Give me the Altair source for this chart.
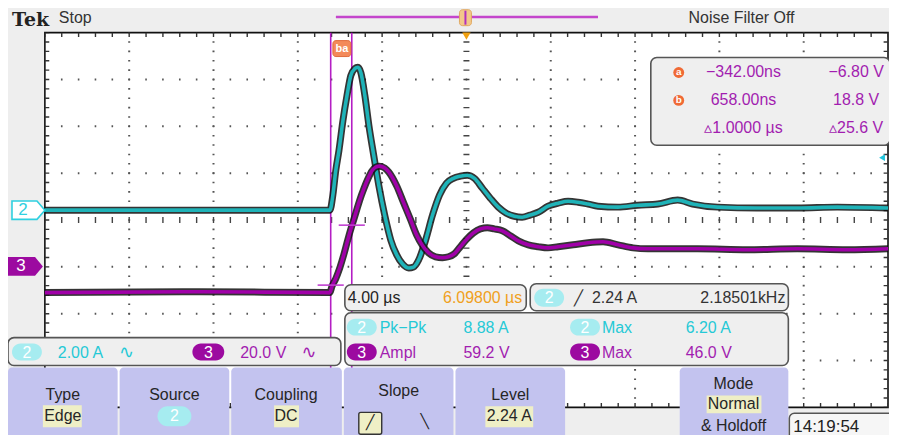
import altair as alt
import pandas as pd

# ---------------- scope settings ----------------
TIME_PER_DIV = 4.0      # us / div
H_DELAY = 6.098         # us, time at screen centre
CH2_A_PER_DIV = 2.0     # A / div
CH3_V_PER_DIV = 20.0    # V / div
CH2_POS = 0.21          # div
CH3_POS = -1.05         # div
TRIG_LEVEL = 2.24       # A

# ---------------- waveform samples ----------------
ch2_t = [-13.90, -10.0, -6.0, -2.0, -0.38, -0.24, -0.10, 0.05, 0.24, 0.43, 0.61, 0.80, 0.95, 1.09,
         1.28, 1.47, 1.70, 1.94, 2.22, 2.51, 2.79, 3.07, 3.36, 3.59, 3.83, 4.16, 4.49, 4.82, 5.15,
         5.48, 5.81, 6.14, 6.48, 6.85, 7.23, 7.61, 7.99, 8.37, 8.74, 9.12, 9.50, 9.97, 10.45, 10.92,
         11.39, 11.87, 12.34, 13.29, 14.23, 15.18, 16.12, 16.83, 18.01, 19.90, 21.80, 23.69, 26.10]
ch2_a = [0, 0, 0, 0, 0, 0.64, 1.70, 2.55, 3.83, 4.89, 5.74, 6.04, 6.10, 5.87,
         4.89, 3.62, 2.34, 1.06, -0.21, -1.28, -1.91, -2.30, -2.47, -2.43, -2.13, -1.28, -0.21, 0.64, 1.15,
         1.36, 1.45, 1.49, 1.36, 0.94, 0.51, 0.13, -0.13, -0.26, -0.30, -0.21, -0.09, 0.17, 0.30, 0.38,
         0.34, 0.26, 0.17, 0.13, 0.21, 0.26, 0.43, 0.26, 0.13, 0.09, 0.09, 0.13, 0.09]

ch3_t = [-13.90, -6.57, -0.38, -0.285, -0.10, 0.09, 0.28, 0.47, 0.66, 0.85, 1.04, 1.23, 1.42, 1.61,
         1.79, 1.98, 2.22, 2.41, 2.79, 3.12, 3.45, 3.73, 4.02, 4.30, 4.63, 4.96, 5.25, 5.53, 5.81,
         6.09, 6.43, 6.76, 7.09, 7.42, 7.80, 8.18, 8.56, 9.03, 9.50, 9.97, 10.45, 11.16, 11.87, 12.58,
         13.29, 14.00, 14.70, 17.07, 19.43, 21.80, 24.16, 26.10]
ch3_v = [-10.0, -9.6, -10.0, -7.4, -4.0, 0.6, 6.2, 12.6, 18.5, 24.0, 29.6, 34.3, 38.5, 41.9,
         43.6, 44.0, 43.2, 41.5, 35.5, 28.3, 21.1, 14.7, 10.0, 7.0, 5.3, 4.9, 5.3, 6.6, 9.6,
         12.6, 15.5, 17.2, 17.7, 17.2, 16.4, 14.3, 12.1, 10.4, 9.6, 9.1, 9.6, 10.4, 11.3, 11.7,
         10.4, 9.1, 8.7, 8.7, 8.3, 8.7, 8.3, 8.7]

cursor_t = [-0.342, 0.658]
cursor_v = [-6.80, 18.8]

# ---------------- readout texts ----------------
cursor_time_labels = ["\u2212342.00ns", "658.00ns", "\u25b51.0000 \u00b5s"]
cursor_value_labels = ["\u22126.80 V", "18.8 V", "\u25b525.6 V"]
timebase_labels = ["4.00 \u00b5s", "6.09800 \u00b5s"]
trigger_labels = ["2.24 A", "2.18501kHz"]
meas_names = ["Pk\u2212Pk", "Ampl", "Max", "Max"]
meas_values = ["8.88 A", "59.2 V", "6.20 A", "46.0 V"]
channel_labels = ["2.00 A", "20.0 V"]
button_titles = ["Type", "Source", "Coupling", "Slope", "Level", "Mode"]
button_values = ["Edge", "DC", "2.24 A", "Normal"]
clock_label = "14:19:54"

# ---------------- geometry ----------------
W, H = 884, 427
M = 8
PX_PER_US = 846 / (10 * TIME_PER_DIV)
PX_PER_DIV_Y = 47.0
T_LEFT = H_DELAY - 5 * TIME_PER_DIV
T_RIGHT = H_DELAY + 5 * TIME_PER_DIV
T0 = T_LEFT - (45 - M) / PX_PER_US
T1 = T0 + W / PX_PER_US
D_TOP = 4 + (32 - M) / PX_PER_DIV_Y
D_BOT = D_TOP - H / PX_PER_DIV_Y

xs = alt.Scale(domain=[T0, T1], nice=False, zero=False)
ys = alt.Scale(domain=[D_BOT, D_TOP], nice=False, zero=False)

CYAN_TR = "#1fb3b8"
PURP_TR = "#a000a8"
CYAN_TX = "#25c9d6"
PURP_TX = "#a21db0"
CYAN_PILL = "#a6ecf0"
PURP_PILL = "#9c0aa0"
BOX = "#efefef"
EDGE = "#555555"
FONT = "Liberation Sans"

layers = []


def X(f):
    return alt.X(f, scale=xs, axis=None)


def Y(f):
    return alt.Y(f, scale=ys, axis=None)


def rects(rows, radius=0, sw=1.3):
    df = pd.DataFrame(rows, columns=["x1", "y1", "x2", "y2", "fill", "stroke"])
    for c in ["x1", "x2", "y1", "y2"]:
        df[c] = df[c] - M
    return alt.Chart(df).mark_rect(cornerRadius=radius, strokeWidth=sw).encode(
        x=alt.X("x1:Q", scale=None, axis=None), x2="x2:Q",
        y=alt.Y("y1:Q", scale=None, axis=None), y2="y2:Q",
        fill=alt.Fill("fill:N", scale=None), stroke=alt.Stroke("stroke:N", scale=None))


def texts(rows, size=16, align="left", font=FONT, weight="normal", baseline="middle"):
    df = pd.DataFrame(rows, columns=["x", "y", "text", "color"])
    df["x"] = df["x"] - M
    df["y"] = df["y"] - M
    return alt.Chart(df).mark_text(align=align, baseline=baseline, fontSize=size,
                                   font=font, fontWeight=weight).encode(
        x=alt.X("x:Q", scale=None, axis=None), y=alt.Y("y:Q", scale=None, axis=None),
        text="text:N", color=alt.Color("color:N", scale=None))


# ---------------- graticule ----------------
grat = pd.DataFrame({"t1": [T_LEFT], "t2": [T_RIGHT], "d1": [4.0], "d2": [-4.0]})
layers.append(alt.Chart(grat).mark_rect(fill="white", stroke="#111", strokeWidth=1.6).encode(
    x=X("t1:Q"), x2="t2:Q", y=Y("d1:Q"), y2="d2:Q"))

vdf = pd.DataFrame({"t": [T_LEFT + k * TIME_PER_DIV for k in range(1, 10) if k != 5],
                    "d1": 4.0, "d2": -4.0})
layers.append(alt.Chart(vdf).mark_rule(color="#555", strokeWidth=2, strokeDash=[1.6, 7.8],
                                       strokeDashOffset=0.8).encode(
    x=X("t:Q"), y=Y("d1:Q"), y2="d2:Q"))
hdf = pd.DataFrame({"d": [-3, -2, -1, 1, 2, 3], "t1": T_LEFT, "t2": T_RIGHT})
layers.append(alt.Chart(hdf).mark_rule(color="#555", strokeWidth=2, strokeDash=[1.6, 15.32],
                                       strokeDashOffset=0.8).encode(
    y=Y("d:Q"), x=X("t1:Q"), x2="t2:Q"))

# centre cross with minor ticks
cv = pd.DataFrame({"t": [H_DELAY], "d1": 4.0, "d2": -4.0})
layers.append(alt.Chart(cv).mark_rule(color="#444", strokeWidth=6, strokeDash=[1.4, 8.0],
                                      strokeDashOffset=0.7).encode(
    x=X("t:Q"), y=Y("d1:Q"), y2="d2:Q"))
ch = pd.DataFrame({"d": [0.0], "t1": T_LEFT, "t2": T_RIGHT})
layers.append(alt.Chart(ch).mark_rule(color="#444", strokeWidth=6, strokeDash=[1.4, 15.52],
                                      strokeDashOffset=0.7).encode(
    y=Y("d:Q"), x=X("t1:Q"), x2="t2:Q"))

# border ticks
bt = pd.DataFrame({"d": [4 - 2.2 / PX_PER_DIV_Y, -4 + 2.2 / PX_PER_DIV_Y], "t1": T_LEFT, "t2": T_RIGHT})
layers.append(alt.Chart(bt).mark_rule(color="#333", strokeWidth=4.4, strokeDash=[1.4, 15.52],
                                      strokeDashOffset=0.7).encode(
    y=Y("d:Q"), x=X("t1:Q"), x2="t2:Q"))
bl = pd.DataFrame({"t": [T_LEFT + 2.2 / PX_PER_US, T_RIGHT - 2.2 / PX_PER_US], "d1": 4.0, "d2": -4.0})
layers.append(alt.Chart(bl).mark_rule(color="#333", strokeWidth=4.4, strokeDash=[1.4, 8.0],
                                      strokeDashOffset=0.7).encode(
    x=X("t:Q"), y=Y("d1:Q"), y2="d2:Q"))

# cursors (vertical bars)
cur = pd.DataFrame({"t": cursor_t, "d1": 4.0, "d2": -4.0})
layers.append(alt.Chart(cur).mark_rule(color="#b41ec4", strokeWidth=1.6).encode(
    x=X("t:Q"), y=Y("d1:Q"), y2="d2:Q"))

# ---------------- waveforms ----------------
w2 = pd.DataFrame({"t": ch2_t, "d": [CH2_POS + a / CH2_A_PER_DIV for a in ch2_a]})
w3 = pd.DataFrame({"t": ch3_t, "d": [CH3_POS + v / CH3_V_PER_DIV for v in ch3_v]})
for df, col in [(w2, CYAN_TR), (w3, PURP_TR)]:
    layers.append(alt.Chart(df).mark_line(color="#111", strokeWidth=7, opacity=0.85,
                                          interpolate="monotone").encode(x=X("t:Q"), y=Y("d:Q")))
    layers.append(alt.Chart(df).mark_line(color=col, strokeWidth=3.6,
                                          interpolate="monotone").encode(x=X("t:Q"), y=Y("d:Q")))

# cursor crossing marks on channel 3
cm = pd.DataFrame({"t1": [t - 0.62 for t in cursor_t], "t2": [t + 0.62 for t in cursor_t],
                   "d": [CH3_POS + v / CH3_V_PER_DIV for v in cursor_v]})
layers.append(alt.Chart(cm).mark_rule(color="#c040d0", strokeWidth=1.6).encode(
    x=X("t1:Q"), x2="t2:Q", y=Y("d:Q")))

# trigger level arrow (right) and trigger position marker (top)
tl = pd.DataFrame({"t": [T_RIGHT - 6 / PX_PER_US], "d": [CH2_POS + TRIG_LEVEL / CH2_A_PER_DIV]})
layers.append(alt.Chart(tl).mark_point(shape="triangle-left", filled=True, color="#22c4dc",
                                       size=45, opacity=1).encode(x=X("t:Q"), y=Y("d:Q")))
tp = pd.DataFrame({"t": [H_DELAY], "d": [4 - 3.5 / PX_PER_DIV_Y]})
layers.append(alt.Chart(tp).mark_point(shape="triangle-down", filled=True, color="#f0a010",
                                       size=70, opacity=1).encode(x=X("t:Q"), y=Y("d:Q")))

# channel ground markers (left)
gm = pd.DataFrame({"x": [28.5 - M, 25.5 - M], "d": [CH2_POS, CH3_POS + 0.06], "lab": ["2", "3"]})
layers.append(alt.Chart(gm.iloc[[0]]).mark_point(
    shape="M-1,-0.56L0.52,-0.56L1,0L0.52,0.56L-1,0.56Z", size=1089, filled=True,
    fill="white", stroke="#2fd0e0", strokeWidth=1.6, opacity=1).encode(
    x=alt.X("x:Q", scale=None, axis=None), y=Y("d:Q")))
layers.append(alt.Chart(gm.iloc[[1]]).mark_point(
    shape="M-1,-0.54L0.55,-0.54L1,0L0.55,0.54L-1,0.54Z", size=1225, filled=True,
    fill=PURP_PILL, strokeWidth=0, opacity=1).encode(
    x=alt.X("x:Q", scale=None, axis=None), y=Y("d:Q")))
gml = gm.copy()
gml["x"] = [23 - M, 21 - M]
gml["c"] = ["#2fd0e0", "white"]
layers.append(alt.Chart(gml).mark_text(fontSize=17, font=FONT, baseline="middle", align="center").encode(
    x=alt.X("x:Q", scale=None, axis=None), y=Y("d:Q"), text="lab:N",
    color=alt.Color("c:N", scale=None)))

# ---------------- header ----------------
layers.append(rects([(337, 15, 600, 17.5, "#c445cc", "#c445cc")], sw=0))
layers.append(rects([(461, 9, 473, 25, "#f3c88a", "#e0a860")], radius=3, sw=1))
layers.append(rects([(466, 10, 468, 24, "#b030c0", "#b030c0")], sw=0))
layers.append(texts([(12, 19.5, "Tek", "#222")], size=19, font="DejaVu Serif", weight="bold"))
layers.append(texts([(59, 17, "Stop", "#333")], size=16))
layers.append(texts([(744, 17, "Noise Filter Off", "#333")], size=16, align="center"))

# cursor tag at top of cursor bars
layers.append(rects([(334, 40, 352, 56, "#f38a5a", "#e06a3a")], radius=3, sw=1))
layers.append(texts([(343, 48, "ba", "white")], size=11, align="center", weight="bold"))

# ---------------- cursor readout box ----------------
layers.append(rects([(653, 57, 893, 145, BOX, EDGE)], radius=6, sw=1.6))
ic = pd.DataFrame({"x": [681 - M, 681 - M], "y": [72 - M, 100 - M], "lab": ["a", "b"]})
layers.append(alt.Chart(ic).mark_point(shape="circle", filled=True, color="#f06a35", size=120,
                                       opacity=1).encode(
    x=alt.X("x:Q", scale=None, axis=None), y=alt.Y("y:Q", scale=None, axis=None)))
layers.append(alt.Chart(ic).mark_text(fontSize=10, font=FONT, fontWeight="bold", color="white",
                                      baseline="middle").encode(
    x=alt.X("x:Q", scale=None, axis=None), y=alt.Y("y:Q", scale=None, axis=None), text="lab:N"))
layers.append(texts([(746, 72, cursor_time_labels[0], PURP_TX),
                     (746, 100, cursor_time_labels[1], PURP_TX),
                     (746, 128, cursor_time_labels[2], PURP_TX),
                     (859, 72, cursor_value_labels[0], PURP_TX),
                     (859, 100, cursor_value_labels[1], PURP_TX),
                     (859, 128, cursor_value_labels[2], PURP_TX)], size=16, align="center"))

# ---------------- timebase / trigger / measurement boxes ----------------
layers.append(rects([(346, 285, 528, 311, BOX, EDGE),
                     (532, 284, 791, 311, BOX, EDGE),
                     (346, 313, 791, 366, BOX, EDGE),
                     (8, 338, 342, 366, BOX, EDGE)], radius=6, sw=1.6))
layers.append(texts([(349, 298, timebase_labels[0], "#222")], size=16))
layers.append(texts([(524, 298, timebase_labels[1], "#f0a020")], size=16, align="right"))
layers.append(rects([(536, 289, 566, 307, CYAN_PILL, CYAN_PILL),
                     (348, 319, 378, 336, CYAN_PILL, CYAN_PILL),
                     (572, 319, 602, 336, CYAN_PILL, CYAN_PILL),
                     (348, 344, 378, 361, PURP_PILL, PURP_PILL),
                     (572, 344, 602, 361, PURP_PILL, PURP_PILL),
                     (12, 344, 42, 361, CYAN_PILL, CYAN_PILL),
                     (193, 344, 225, 361, PURP_PILL, PURP_PILL)], radius=9, sw=0))
layers.append(texts([(551, 298, "2", "white"), (363, 328, "2", "white"), (587, 328, "2", "white"),
                     (363, 353, "3", "white"), (587, 353, "3", "white"), (27, 353, "2", "white"),
                     (209, 353, "3", "white")], size=16, align="center"))
layers.append(texts([(576, 298, "\u2571", "#333")], size=15, font="DejaVu Sans"))
layers.append(texts([(594, 298, trigger_labels[0], "#333")], size=16))
layers.append(texts([(788, 298, trigger_labels[1], "#333")], size=16, align="right"))
layers.append(texts([(381, 328, meas_names[0], CYAN_TX), (465, 328, meas_values[0], CYAN_TX),
                     (604, 328, meas_names[2], CYAN_TX), (688, 328, meas_values[2], CYAN_TX),
                     (381, 353, meas_names[1], PURP_TX), (465, 353, meas_values[1], PURP_TX),
                     (604, 353, meas_names[3], PURP_TX), (688, 353, meas_values[3], PURP_TX),
                     (58, 353, channel_labels[0], CYAN_TX), (241, 353, channel_labels[1], PURP_TX)],
                    size=16))
layers.append(texts([(127, 353, "\u223f", CYAN_TX), (310, 353, "\u223f", PURP_TX)], size=18,
                    align="center", font="DejaVu Sans"))

# ---------------- soft-key buttons ----------------
BTN = "#c3c3ef"
layers.append(rects([(8, 368, 118, 442, BTN, BTN), (120, 368, 230, 442, BTN, BTN),
                     (232, 368, 343, 442, BTN, BTN), (345, 368, 455, 442, BTN, BTN),
                     (457, 368, 567, 442, BTN, BTN), (682, 368, 791, 442, BTN, BTN)], radius=4, sw=0))
HL = "#efefc6"
layers.append(rects([(43, 406, 82, 428, HL, HL), (275, 406, 300, 428, HL, HL),
                     (487, 407, 535, 428, HL, HL), (709, 396, 764, 414, HL, HL)], sw=0))
layers.append(rects([(158, 407, 192, 427, CYAN_PILL, CYAN_PILL)], radius=10, sw=0))
layers.append(texts([(175, 417, "2", "white")], size=16, align="center"))
layers.append(rects([(360, 413, 383, 435, HL, "#333")], radius=2, sw=1.4))
layers.append(texts([(63, 396, button_titles[0], "#262626"), (175, 396, button_titles[1], "#262626"),
                     (287, 396, button_titles[2], "#262626"), (400, 392, button_titles[3], "#262626"),
                     (512, 396, button_titles[4], "#262626"), (736, 385, button_titles[5], "#262626"),
                     (63, 417, button_values[0], "#262626"), (287, 417, button_values[1], "#262626"),
                     (511, 417, button_values[2], "#262626"), (736, 405, button_values[3], "#262626"),
                     (736, 427, "& Holdoff", "#262626")], size=16, align="center"))
layers.append(texts([(371.5, 424, "\u2571", "#222"), (426, 423, "\u2572", "#222")], size=14,
                    align="center", font="DejaVu Sans"))

# clock box
layers.append(rects([(792, 414, 899, 441, "#f6f6f6", EDGE)], radius=5, sw=1.5))
layers.append(texts([(796, 428, clock_label, "#222")], size=17))

chart = alt.layer(*layers).properties(
    width=W, height=H, padding=0, autosize=alt.AutoSizeParams(type="none"),
    background="#eeeeee").configure_view(stroke=None)

chart.save("out.html", embed_options={"renderer": "svg", "actions": False})
